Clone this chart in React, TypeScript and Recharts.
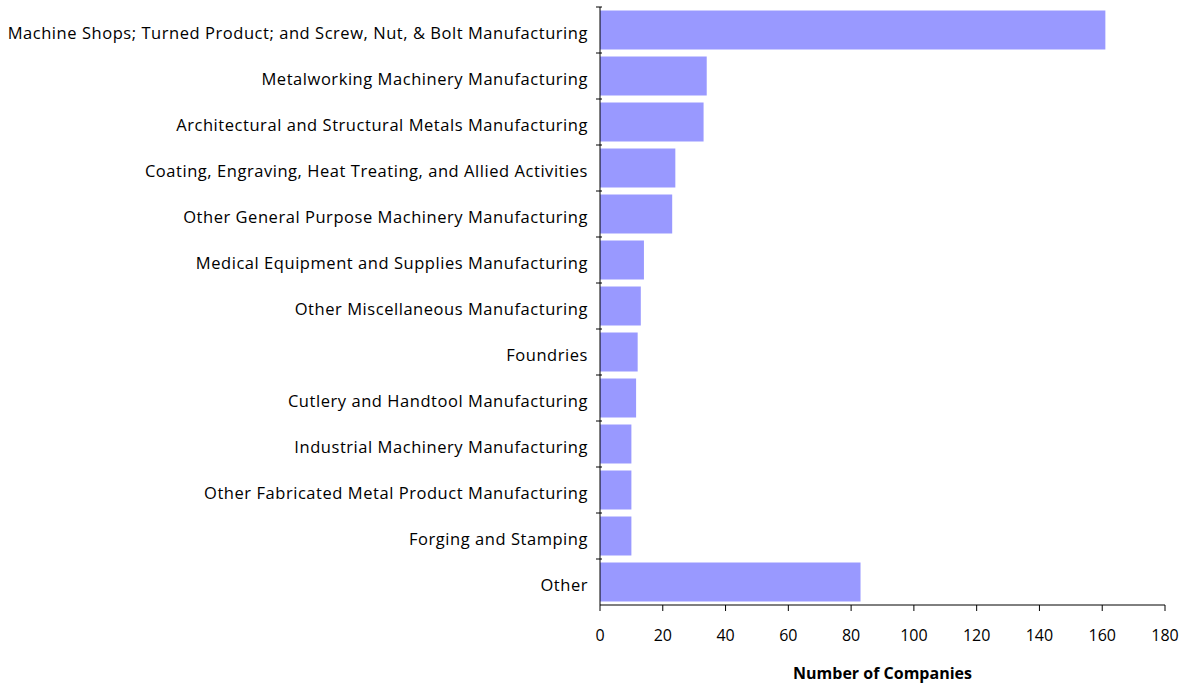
import { Bar, BarChart, XAxis, YAxis } from "recharts";

const categories = [
  "Machine Shops; Turned Product; and Screw, Nut, & Bolt Manufacturing",
  "Metalworking Machinery Manufacturing",
  "Architectural and Structural Metals Manufacturing",
  "Coating, Engraving, Heat Treating, and Allied Activities",
  "Other General Purpose Machinery Manufacturing",
  "Medical Equipment and Supplies Manufacturing",
  "Other Miscellaneous Manufacturing",
  "Foundries",
  "Cutlery and Handtool Manufacturing",
  "Industrial Machinery Manufacturing",
  "Other Fabricated Metal Product Manufacturing",
  "Forging and Stamping",
  "Other",
];

const companies = [161, 34, 33, 24, 23, 14, 13, 12, 11.5, 10, 10, 10, 83];

const xTicks = [0, 20, 40, 60, 80, 100, 120, 140, 160, 180];

const data = categories.map((name, i) => ({ name, value: companies[i] }));

const FONT = "'Open Sans', sans-serif";
const PLOT_TOP = 7;
const PLOT_BOTTOM = 605;
const BAND = (PLOT_BOTTOM - PLOT_TOP) / categories.length;

function CategoryTick(props: any) {
  const { x, y, payload } = props;
  const top = y - BAND / 2;
  return (
    <g>
      <line x1={x + 4} x2={x + 10} y1={top} y2={top} stroke="#000" strokeWidth={1} />
      <text
        x={x - 4}
        y={y + 2}
        textAnchor="end"
        dominantBaseline="central"
        fontFamily={FONT}
        fontSize={16.5}
        letterSpacing={0.55}
        fill="#000"
      >
        {payload.value}
      </text>
    </g>
  );
}

export default function App() {
  return (
    <div style={{ position: "absolute", left: 0, top: 0, width: 1188, height: 683, background: "#fff" }}>
      <BarChart
        width={1188}
        height={683}
        data={data}
        layout="vertical"
        margin={{ top: PLOT_TOP, right: 23, bottom: 0, left: 0 }}
        barCategoryGap="7.6%"
      >
        <XAxis
          type="number"
          domain={[0, 180]}
          ticks={xTicks}
          interval={0}
          stroke="#000"
          tickSize={6}
          tickMargin={19}
          height={78}
          tick={{ fontFamily: FONT, fontSize: 16, fill: "#000" }}
          label={{
            value: "Number of Companies",
            position: "insideBottom",
            offset: 4,
            style: { fontFamily: FONT, fontSize: 16, fontWeight: 700, fill: "#000" },
          }}
        />
        <YAxis
          type="category"
          dataKey="name"
          width={600}
          interval={0}
          stroke="#000"
          tickLine={false}
          tick={<CategoryTick />}
        />
        <Bar dataKey="value" fill="#9999FF" isAnimationActive={false} />
      </BarChart>
    </div>
  );
}
